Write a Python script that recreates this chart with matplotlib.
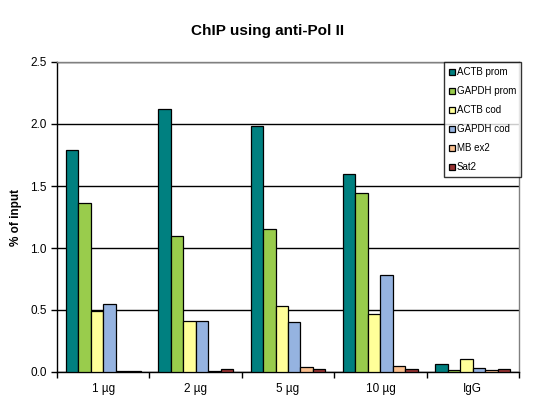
import matplotlib.pyplot as plt
import numpy as np

plt.rcParams['font.family'] = ['Liberation Sans', 'DejaVu Sans']

## 데이터
groups = ['1 µg', '2 µg', '5 µg', '10 µg', 'IgG']
series = ['ACTB prom', 'GAPDH prom', 'ACTB cod', 'GAPDH cod', 'MB ex2', 'Sat2']
actb_prom = [1.79, 2.12, 1.98, 1.60, 0.065]
gapdh_prom = [1.36, 1.10, 1.15, 1.44, 0.015]
actb_cod = [0.49, 0.41, 0.53, 0.47, 0.105]
gapdh_cod = [0.55, 0.41, 0.40, 0.78, 0.035]
mb_ex2 = [0.005, 0.005, 0.04, 0.05, 0.015]
sat2 = [0.005, 0.025, 0.025, 0.025, 0.025]
colors = ['#008080', '#99CC4C', '#FFFF99', '#95B3E0', '#FAC090', '#993333']

values = [actb_prom, gapdh_prom, actb_cod, gapdh_cod, mb_ex2, sat2]

fig = plt.figure(figsize=(5.36, 3.96), dpi=100)
ax = fig.add_axes([57/536, 1-372/396, (519-57)/536, (372-62)/396])

x = np.arange(len(groups))
w = 0.135
for i, (vals, name, c) in enumerate(zip(values, series, colors)):
    ax.bar(x + (i - 2.5) * w, vals, w, color=c, edgecolor='black', linewidth=0.9,
           label=name, zorder=3)

ax.set_xlim(-0.5, len(groups) - 0.5)
ax.set_ylim(0, 2.5)
ax.set_yticks(np.arange(0, 2.51, 0.5))
ax.set_yticklabels(['%.1f' % v for v in np.arange(0, 2.51, 0.5)], fontsize=8.5)
ax.yaxis.grid(True, color='black', linewidth=1)
ax.set_axisbelow(True)

ax.set_xticks(x)
ax.set_xticklabels(groups, fontsize=8.5)
ax.set_xticks(np.arange(-0.5, len(groups)), minor=True)
ax.tick_params(axis='x', which='major', length=0, pad=8)
ax.tick_params(axis='x', which='minor', length=4, width=1, direction='out')
ax.tick_params(axis='y', length=4, width=1, direction='out')

ax.spines['left'].set_color('black')
ax.spines['bottom'].set_color('black')
ax.spines['top'].set_color('gray')
ax.spines['right'].set_color('gray')
for s in ax.spines.values():
    s.set_linewidth(1)

ax.set_ylabel('% of input', fontsize=8.5, fontweight='bold', labelpad=6)
fig.suptitle('ChIP using anti-Pol II', fontsize=11, fontweight='bold', y=0.94)

leg = ax.legend(loc='upper right', bbox_to_anchor=(1.005, 1.0), fontsize=7,
                frameon=True, fancybox=False, edgecolor='black',
                handlelength=0.55, handleheight=0.55, handletextpad=0.2,
                labelspacing=0.92, borderpad=0.55, borderaxespad=0)
leg.get_frame().set_linewidth(1)
leg.set_zorder(5)

plt.savefig('out.png', dpi=100)
